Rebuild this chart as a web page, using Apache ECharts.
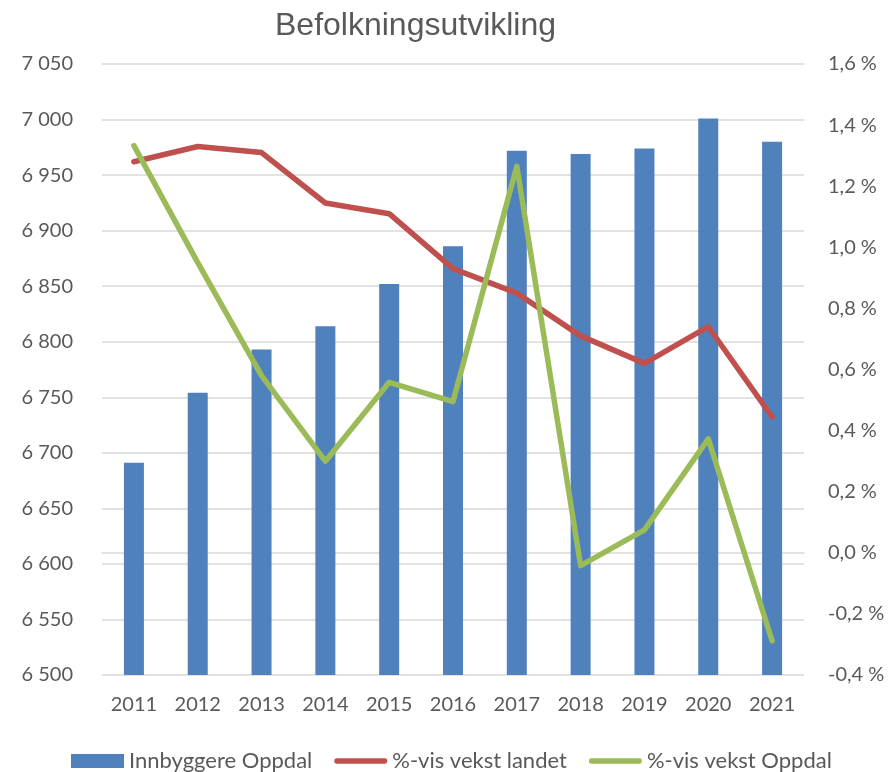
<!DOCTYPE html>
<html>
<head>
<meta charset="utf-8">
<script src="https://cdn.jsdelivr.net/npm/echarts@6/dist/echarts.min.js"></script>
<style>
  html, body { margin: 0; padding: 0; background: #fff; }
  #chart { width: 896px; height: 772px; }
</style>
</head>
<body>
<div id="chart"></div>
<script>
// data
var years = ['2011', '2012', '2013', '2014', '2015', '2016', '2017', '2018', '2019', '2020', '2021'];
var innbyggere = [6691, 6754, 6793, 6814, 6852, 6886, 6972, 6969, 6974, 7001, 6980];
var vekstLandet = [1.28, 1.33, 1.31, 1.145, 1.11, 0.93, 0.85, 0.71, 0.62, 0.74, 0.445];
var vekstOppdal = [1.333, 0.95, 0.58, 0.30, 0.558, 0.495, 1.265, -0.042, 0.075, 0.373, -0.288];

var grey = '#595959';
var font = 'Lato, "Open Sans", sans-serif';
// thick rounded line for the legend, padded to the icon box so it stays thin
var lineIcon = 'path://M0,0 M56,14 M2.8,4.2 L53.2,4.2 A2.8,2.8 0 0 1 53.2,9.8 L2.8,9.8 A2.8,2.8 0 0 1 2.8,4.2 Z';

var chart = echarts.init(document.getElementById('chart'));

var option = {
  animation: false,
  title: {
    text: 'Befolkningsutvikling',
    left: 270,
    top: 5,
    textStyle: { fontFamily: '"Liberation Sans", Arial, sans-serif', fontSize: 32, fontWeight: 'normal', color: grey }
  },
  legend: {
    left: 71,
    top: 750,
    padding: 0,
    itemWidth: 53,
    itemHeight: 14,
    itemGap: 22,
    textStyle: { fontFamily: font, fontSize: 22, color: grey },
    data: [
      { name: 'Innbyggere Oppdal', icon: 'rect' },
      { name: '%-vis vekst landet', icon: lineIcon, itemStyle: { color: '#C0504D', borderWidth: 0 } },
      { name: '%-vis vekst Oppdal', icon: lineIcon, itemStyle: { color: '#9BBB59', borderWidth: 0 } }
    ]
  },
  grid: { left: 102, right: 92, top: 64, bottom: 97 },
  xAxis: {
    type: 'category',
    data: years,
    axisTick: { show: false },
    axisLine: { lineStyle: { color: '#D9D9D9', width: 1.5 } },
    axisLabel: { margin: 20, fontFamily: font, fontSize: 20, color: grey }
  },
  yAxis: [{
    type: 'value',
    min: 6500,
    max: 7050,
    interval: 50,
    axisLine: { show: false },
    axisTick: { show: false },
    splitLine: { lineStyle: { color: '#D9D9D9', width: 1.5 } },
    axisLabel: {
      margin: 29, fontFamily: font, fontSize: 20, color: grey,
      formatter: function (v) {
        var s = String(v);
        return s.slice(0, s.length - 3) + ' ' + s.slice(-3);
      }
    }
  }, {
    type: 'value',
    min: -0.4,
    max: 1.6,
    interval: 0.2,
    axisLine: { show: false },
    axisTick: { show: false },
    splitLine: { show: false },
    axisLabel: {
      margin: 24, fontFamily: font, fontSize: 20, color: grey,
      formatter: function (v) {
        return (Math.round(v * 10) / 10).toFixed(1).replace('.', ',') + ' %';
      }
    }
  }],
  series: [{
    name: 'Innbyggere Oppdal',
    type: 'bar',
    barWidth: 20,
    itemStyle: { color: '#4F81BD' },
    data: innbyggere
  }, {
    name: '%-vis vekst landet',
    type: 'line',
    yAxisIndex: 1,
    symbol: 'none',
    lineStyle: { color: '#C0504D', width: 5.5, cap: 'round', join: 'round' },
    itemStyle: { color: '#C0504D' },
    data: vekstLandet
  }, {
    name: '%-vis vekst Oppdal',
    type: 'line',
    yAxisIndex: 1,
    symbol: 'none',
    lineStyle: { color: '#9BBB59', width: 5.5, cap: 'round', join: 'round' },
    itemStyle: { color: '#9BBB59' },
    data: vekstOppdal
  }]
};

chart.setOption(option);
</script>
</body>
</html>
